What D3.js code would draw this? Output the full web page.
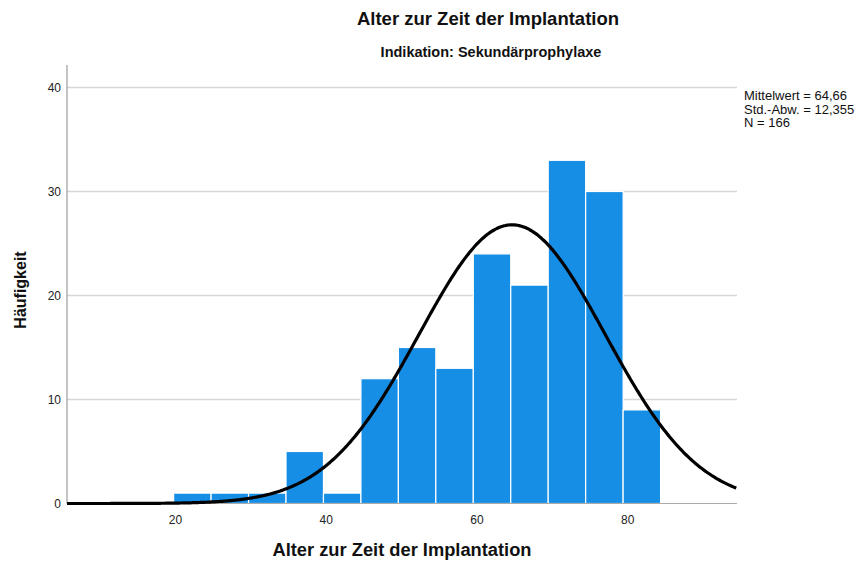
<!DOCTYPE html>
<html lang="de">
<head>
    <meta charset="UTF-8">
    <title>Alter zur Zeit der Implantation</title>
    <script src="https://d3js.org/d3.v7.min.js"></script>
    <style>
        body { margin: 0; background: #fff; }
        text { font-family: "Liberation Sans", Arial, sans-serif; }
    </style>
</head>
<body>
<script>
    // histogram data (5-year bins)
    var binStart = 19.75;
    var binWidth = 4.97;
    var counts = [1, 1, 1, 5, 1, 12, 15, 13, 24, 21, 33, 30, 9];
    var xTicks = [20, 40, 60, 80];
    var yTicks = [0, 10, 20, 30, 40];
    var mean = 64.66;
    var sd = 12.355;
    var n = 166;
    var statLines = ["Mittelwert = 64,66", "Std.-Abw. = 12,355", "N = 166"];

    var w = 858, h = 565;
    var plotLeft = 67, plotRight = 737, plotTop = 65, plotBottom = 503.5;

    var svg = d3.select("body").append("svg")
        .attr("width", w)
        .attr("height", h);

    var x = d3.scaleLinear().domain([5.6, 94.5]).range([plotLeft, plotRight]);
    var y = d3.scaleLinear().domain([0, 10]).range([plotBottom, plotBottom - 104]);

    // grid lines
    svg.selectAll(".grid")
        .data(yTicks.filter(function(d) { return d > 0; }))
        .enter().append("line")
        .attr("x1", plotLeft).attr("x2", plotRight)
        .attr("y1", function(d) { return y(d); })
        .attr("y2", function(d) { return y(d); })
        .attr("stroke", "#d6d6d6")
        .attr("stroke-width", 1.5);

    // bars
    var bins = counts.map(function(c, i) {
        return { x0: binStart + i * binWidth, x1: binStart + (i + 1) * binWidth, c: c };
    });
    svg.selectAll(".bar")
        .data(bins)
        .enter().append("rect")
        .attr("x", function(d) { return x(d.x0); })
        .attr("y", function(d) { return y(d.c); })
        .attr("width", function(d) { return x(d.x1) - x(d.x0); })
        .attr("height", function(d) { return y(0) - y(d.c); })
        .attr("fill", "#168ee6")
        .attr("stroke", "#ffffff")
        .attr("stroke-width", 1.2);

    // axis lines
    svg.append("line")
        .attr("x1", plotLeft).attr("x2", plotLeft)
        .attr("y1", plotTop).attr("y2", plotBottom)
        .attr("stroke", "#888").attr("stroke-width", 1);
    svg.append("line")
        .attr("x1", plotLeft).attr("x2", plotRight)
        .attr("y1", plotBottom).attr("y2", plotBottom)
        .attr("stroke", "#aaa").attr("stroke-width", 1);

    // normal curve (nominal bin width 5)
    var pts = d3.range(x.domain()[0], x.domain()[1] + 0.01, 0.2).map(function(v) {
        var z = (v - mean) / sd;
        return [v, n * 5 / (sd * Math.sqrt(2 * Math.PI)) * Math.exp(-0.5 * z * z)];
    });
    svg.append("path")
        .datum(pts)
        .attr("d", d3.line()
            .x(function(d) { return x(d[0]); })
            .y(function(d) { return y(d[1]); })
            .curve(d3.curveBasis))
        .attr("fill", "none")
        .attr("stroke", "#000")
        .attr("stroke-width", 3.2);

    // tick labels
    svg.selectAll(".xt")
        .data(xTicks)
        .enter().append("text")
        .attr("x", function(d) { return x(d); })
        .attr("y", 524)
        .attr("text-anchor", "middle")
        .attr("font-size", "12px")
        .attr("fill", "#222")
        .text(function(d) { return d; });
    svg.selectAll(".yt")
        .data(yTicks)
        .enter().append("text")
        .attr("x", 61)
        .attr("y", function(d) { return y(d) + 4.5; })
        .attr("text-anchor", "end")
        .attr("font-size", "12px")
        .attr("fill", "#222")
        .text(function(d) { return d; });

    // titles
    svg.append("text")
        .attr("x", 488).attr("y", 25)
        .attr("text-anchor", "middle")
        .attr("font-size", "18.5px")
        .attr("font-weight", "bold")
        .attr("fill", "#111")
        .text("Alter zur Zeit der Implantation");
    svg.append("text")
        .attr("x", 491).attr("y", 57)
        .attr("text-anchor", "middle")
        .attr("font-size", "14.5px")
        .attr("font-weight", "bold")
        .attr("fill", "#111")
        .text("Indikation: Sekundärprophylaxe");
    svg.append("text")
        .attr("x", 402).attr("y", 556)
        .attr("text-anchor", "middle")
        .attr("font-size", "18.3px")
        .attr("font-weight", "bold")
        .attr("fill", "#111")
        .text("Alter zur Zeit der Implantation");
    svg.append("text")
        .attr("transform", "translate(26,290) rotate(-90)")
        .attr("text-anchor", "middle")
        .attr("font-size", "16px")
        .attr("font-weight", "bold")
        .attr("fill", "#111")
        .text("Häufigkeit");

    // stats box
    svg.selectAll(".stat")
        .data(statLines)
        .enter().append("text")
        .attr("x", 744)
        .attr("y", function(d, i) { return 100 + i * 13.5; })
        .attr("font-size", "13px")
        .attr("fill", "#111")
        .text(function(d) { return d; });
</script>
</body>
</html>
